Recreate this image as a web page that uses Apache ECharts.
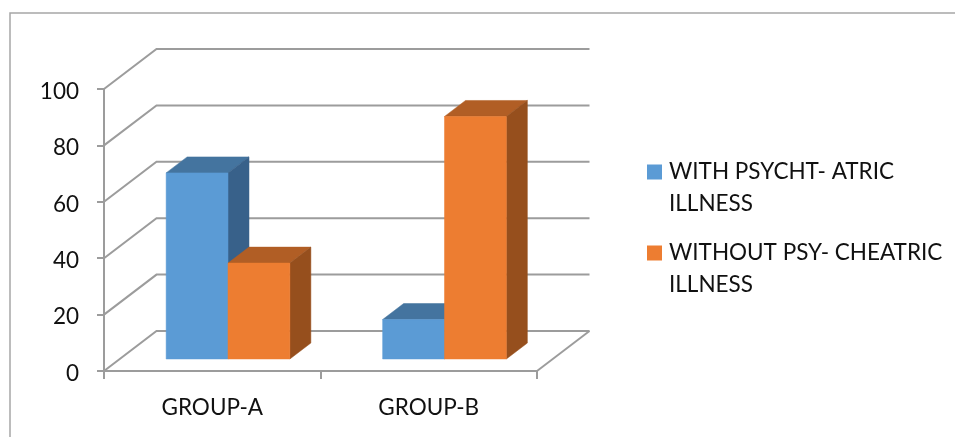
<!DOCTYPE html>
<html>
<head>
<meta charset="utf-8">
<style>html,body{margin:0;padding:0;background:#fff}#chart{width:955px;height:437px}</style>
<script src="https://cdn.jsdelivr.net/npm/echarts@6/dist/echarts.min.js"></script>
</head>
<body>
<div id="chart"></div>
<script>
// Survey groups and the share of each group in percent
const categories = ['GROUP-A', 'GROUP-B'];
const seriesNames = ['WITH PSYCHT- ATRIC\nILLNESS', 'WITHOUT PSY- CHEATRIC\nILLNESS'];
const withIllness = [66, 14];
const withoutIllness = [34, 86];
const yTicks = [0, 20, 40, 60, 80, 100];

// Oblique projection of the chart box: how far the floor recedes in pixels
const DEPTH_X = 52.5;
const DEPTH_Y = 40;
// Bars sit in the middle 40% of the box depth; two bars plus a 150% gap fill a band
const BAR_START = 0.3;
const BAR_DEPTH = 0.4;
const BAR_SHARE = 1 / 3.5;
const FONT = 'Lato, "Open Sans", sans-serif';
const LINE = '#9c9c9c';
const LINE_WIDTH = 2;

const barStyles = [
  { front: '#5b9bd5', top: '#44749f', side: '#38618a' },
  { front: '#ed7d31', top: '#b15e25', side: '#964f1d' }
];

function renderWall(params, api) {
  const rect = params.coordSys;
  const y = api.coord([0, api.value(1)])[1];
  const right = rect.x + rect.width;
  const children = [{
    type: 'polyline',
    shape: { points: [[rect.x, y], [rect.x + DEPTH_X, y - DEPTH_Y], [right + DEPTH_X, y - DEPTH_Y]] },
    style: { stroke: LINE, lineWidth: LINE_WIDTH, fill: null }
  }];
  if (api.value(1) === 0) {
    children.push({
      type: 'line',
      shape: { x1: right, y1: y, x2: right + DEPTH_X, y2: y - DEPTH_Y },
      style: { stroke: LINE, lineWidth: LINE_WIDTH }
    });
  }
  return { type: 'group', children };
}

function renderBar(index) {
  return function (params, api) {
    const base = api.coord([api.value(0), 0]);
    const tip = api.coord([api.value(0), api.value(1)]);
    const w = api.size([1, 0])[0] * BAR_SHARE;
    const x0 = base[0] + DEPTH_X * BAR_START + (index - 1) * w;
    const x1 = x0 + w;
    const yb = base[1] - DEPTH_Y * BAR_START;
    const yt = tip[1] - DEPTH_Y * BAR_START;
    const dx = DEPTH_X * BAR_DEPTH;
    const dy = DEPTH_Y * BAR_DEPTH;
    const c = barStyles[index];
    const face = (points, fill) => ({ type: 'polygon', shape: { points }, style: { fill, stroke: fill, lineWidth: 0.5 } });
    return {
      type: 'group',
      children: [
        face([[x0, yt], [x1, yt], [x1 + dx, yt - dy], [x0 + dx, yt - dy]], c.top),
        face([[x1, yb], [x1, yt], [x1 + dx, yt - dy], [x1 + dx, yb - dy]], c.side),
        face([[x0, yb], [x1, yb], [x1, yt], [x0, yt]], c.front)
      ]
    };
  };
}

const barSeries = [withIllness, withoutIllness].map((values, i) => ({
  name: seriesNames[i],
  type: 'custom',
  renderItem: renderBar(i),
  clip: false,
  silent: true,
  z: 3 + i,
  itemStyle: { color: barStyles[i].front },
  encode: { x: 0, y: 1 },
  data: values.map((v, k) => [k, v])
}));

const chart = echarts.init(document.getElementById('chart'), null, { renderer: 'canvas' });
chart.setOption({
  animation: false,
  backgroundColor: '#fff',
  grid: { left: 104, right: 418, top: 89, bottom: 66 },
  xAxis: {
    type: 'category',
    data: categories,
    axisLine: { lineStyle: { color: LINE, width: LINE_WIDTH } },
    axisTick: { show: true, length: 8, alignWithLabel: false, lineStyle: { color: LINE, width: LINE_WIDTH } },
    axisLabel: { color: '#111', fontSize: 22.5, fontFamily: FONT, margin: 25 }
  },
  yAxis: {
    type: 'value',
    min: 0,
    max: 100,
    interval: 20,
    splitLine: { show: false },
    axisLine: { show: true, lineStyle: { color: LINE, width: LINE_WIDTH } },
    axisTick: { show: true, length: 7, lineStyle: { color: LINE, width: LINE_WIDTH } },
    axisLabel: {
      margin: 25,
      formatter: '{v|{value}}',
      rich: { v: { color: '#111', fontSize: 22.5, fontFamily: FONT, padding: [5, 0, 0, 0] } }
    }
  },
  legend: {
    data: seriesNames,
    // A blank first line puts the swatch level with the first line of each name
    formatter: name => '\n' + name,
    orient: 'vertical',
    left: 647,
    top: 124,
    padding: 0,
    itemWidth: 15,
    itemHeight: 15,
    itemGap: -15,
    selectedMode: false,
    icon: 'rect',
    textStyle: { color: '#111', fontSize: 22.5, fontFamily: FONT, lineHeight: 32, padding: [0, 0, 0, 2] }
  },
  graphic: [{
    type: 'polyline',
    silent: true,
    shape: { points: [[10, 437], [10, 13], [955, 13]] },
    style: { stroke: '#a6a6a6', lineWidth: 1.5, fill: null }
  }],
  series: [{
    type: 'custom',
    name: 'wall',
    renderItem: renderWall,
    clip: false,
    silent: true,
    z: 1,
    encode: { x: 0, y: 1 },
    data: yTicks.map(v => [0, v])
  }].concat(barSeries)
});
</script>
</body>
</html>
